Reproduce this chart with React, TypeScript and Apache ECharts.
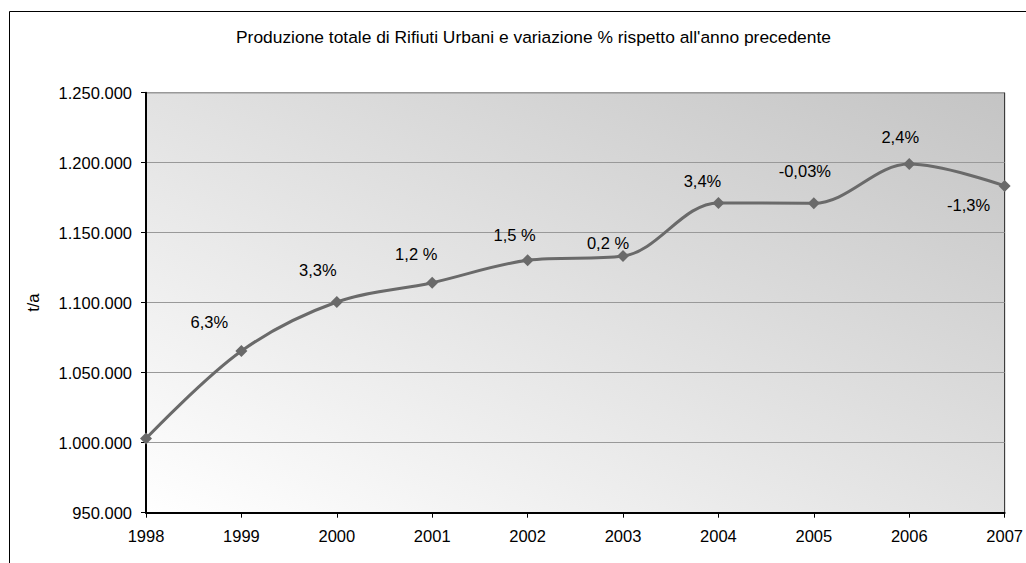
import React, { useEffect, useRef } from "react";
import * as echarts from "echarts";

// Annual municipal waste production (t/a) and year-over-year change
const years = ["1998", "1999", "2000", "2001", "2002", "2003", "2004", "2005", "2006", "2007"];
const tonnes = [1003000, 1065500, 1100500, 1114300, 1130300, 1133300, 1171300, 1171000, 1199000, 1183400];
const changeLabels = ["", "6,3%", "3,3%", "1,2 %", "1,5 %", "0,2 %", "3,4%", "-0,03%", "2,4%", "-1,3%"];
const labelOffsets: [number, number][] = [
  [0, 0], [-32, -29], [-19, -32], [-16, -29], [-13, -25], [-15, -13], [-16, -22], [-9, -32], [-9, -27], [-36, 19],
];
const yTicks = { min: 950000, max: 1250000, interval: 50000 };

const FONT = "'Liberation Sans', Arial, sans-serif";

const fmtThousands = (v: number) => String(v).replace(/\B(?=(\d{3})+(?!\d))/g, ".");

export default function App() {
  const ref = useRef<HTMLDivElement>(null);

  useEffect(() => {
    if (!ref.current) return;
    const chart = echarts.init(ref.current, undefined, { renderer: "svg" });

    const data = tonnes.map((v, i) => ({
      value: v,
      label: {
        show: changeLabels[i] !== "",
        formatter: changeLabels[i],
        position: "inside",
        align: "center",
        verticalAlign: "middle",
        offset: labelOffsets[i],
      },
    }));

    chart.setOption({
      animation: false,
      backgroundColor: "#ffffff",
      textStyle: { fontFamily: FONT },
      title: {
        text: "Produzione totale di Rifiuti Urbani e variazione % rispetto all'anno precedente",
        left: 231,
        top: 23,
        textStyle: { fontFamily: FONT, fontSize: 17.4, fontWeight: "normal", color: "#000" },
      },
      graphic: [
        {
          // outer chart frame: only its left and top edges fall inside the view
          type: "polyline",
          shape: { points: [[9.5, 563], [9.5, 11.5], [1026, 11.5]] },
          style: { stroke: "#000", lineWidth: 1, fill: "none" },
          silent: true,
        },
      ],
      grid: {
        left: 146,
        top: 92.7,
        right: 15.5,
        bottom: 50.3,
        show: true,
        borderColor: "#222",
        borderWidth: 1,
        backgroundColor: new echarts.graphic.LinearGradient(1, 0, 0, 1, [
          { offset: 0, color: "#c4c4c4" },
          { offset: 1, color: "#ffffff" },
        ]),
      },
      xAxis: {
        type: "category",
        data: years,
        boundaryGap: false,
        axisLine: { lineStyle: { color: "#000", width: 2 } },
        axisTick: { show: true, length: 5, lineStyle: { color: "#000", width: 1 } },
        axisLabel: { color: "#000", fontSize: 16.5, fontFamily: FONT, margin: 15, showMaxLabel: true },
        splitLine: { show: false },
      },
      yAxis: {
        type: "value",
        min: yTicks.min,
        max: yTicks.max,
        interval: yTicks.interval,
        name: "t/a",
        nameLocation: "middle",
        nameGap: 105,
        nameRotate: 90,
        nameTextStyle: { color: "#000", fontSize: 16.5, fontFamily: FONT },
        axisLine: { show: true, lineStyle: { color: "#000", width: 2 } },
        axisTick: { show: true, length: 5, lineStyle: { color: "#000", width: 1 } },
        axisLabel: {
          color: "#000",
          fontSize: 16.5,
          fontFamily: FONT,
          margin: 14,
          formatter: (v: number) => fmtThousands(v),
        },
        splitLine: { show: true, lineStyle: { color: "#999", width: 1 } },
      },
      series: [
        {
          type: "line",
          data,
          smooth: 0.35,
          symbol: "diamond",
          symbolSize: 12,
          lineStyle: { color: "#6a6a6a", width: 3 },
          itemStyle: { color: "#6a6a6a" },
          label: { color: "#000", fontSize: 16.5, fontFamily: FONT },
          z: 3,
        },
      ],
    });

    return () => chart.dispose();
  }, []);

  return (
    <div
      style={{ position: "fixed", left: 0, top: 0, width: 1026, height: 563, overflow: "hidden", background: "#fff" }}
    >
      <div ref={ref} style={{ width: 1026, height: 563, overflow: "hidden" }} />
    </div>
  );
}
